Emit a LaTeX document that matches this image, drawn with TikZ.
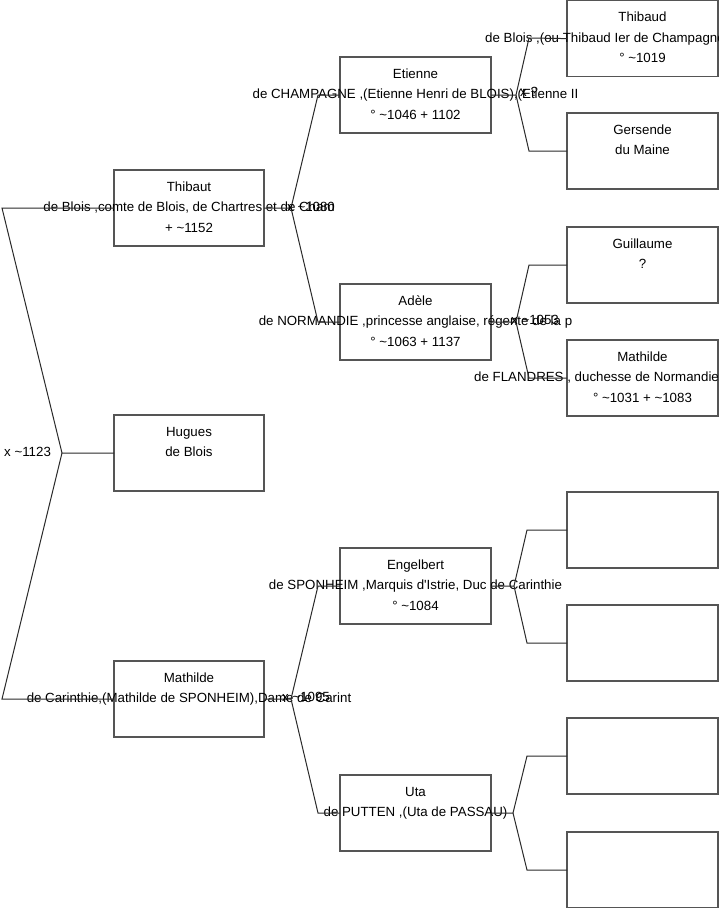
\documentclass[tikz,border=0pt]{standalone}
\usepackage{fontspec}
\setmainfont{Liberation Sans}
\definecolor{boxgray}{HTML}{555555}
\definecolor{linegray}{HTML}{2A2A2A}
\newcommand\tld{\textasciitilde}
\tikzset{
  box/.style={draw=boxgray, line width=1.2pt, rectangle, inner sep=0pt, outer sep=0pt, minimum height=76pt, anchor=north west},
  txt/.style={inner sep=0pt, anchor=base, font=\fontsize{13.3}{15}\selectfont, text=black},
  lbl/.style={inner sep=0pt, anchor=base west, font=\fontsize{13.3}{15}\selectfont, text=black},
  link/.style={draw=linegray, line width=1pt}
}
\newcommand\famcard[7]{%
  \node[box, minimum width=#4pt] (#1) at (#2,#3) {};
  \node[txt] (#1-a) at ({#2+#4/2},{#3+21}) {#5};
  \node[txt] (#1-b) at ({#2+#4/2},{#3+41.5}) {#6};
  \node[txt] (#1-c) at ({#2+#4/2},{#3+62}) {#7};
}
\begin{document}
\begin{tikzpicture}[x=1pt,y=-1pt]
\useasboundingbox[fill=white] (0,0) rectangle (719,908);
% column 1
\famcard{thibaut}{114}{170}{150}{Thibaut}{de Blois ,comte de Blois, de Chartres et de Cham}{+ \tld1152}
\famcard{hugues}{114}{415}{150}{Hugues}{de Blois}{}
\famcard{mathilde}{114}{661}{150}{Mathilde}{de Carinthie,(Mathilde de SPONHEIM),Dame de Carint}{}
% column 2
\famcard{etienne}{340}{57}{151}{Etienne}{de CHAMPAGNE ,(Etienne Henri de BLOIS),(Etienne II}{° \tld1046 + 1102}
\famcard{adele}{340}{284}{151}{Adèle}{de NORMANDIE ,princesse anglaise, régente de la p}{° \tld1063 + 1137}
\famcard{engelbert}{340}{548}{151}{Engelbert}{de SPONHEIM ,Marquis d\textquotesingle Istrie, Duc de Carinthie}{° \tld1084}
\famcard{uta}{340}{775}{151}{Uta}{de PUTTEN ,(Uta de PASSAU)}{}
% column 3
\famcard{thibaud}{567}{0.6}{151}{Thibaud}{}{° \tld1019}
\node[lbl] (thibaud-b2) at (485,42.1) {de Blois ,(ou Thibaud Ier de Champagne};
\famcard{gersende}{567}{113}{151}{Gersende}{du Maine}{}
\famcard{guillaume}{567}{227}{151}{Guillaume}{?}{}
\famcard{mathfl}{567}{340}{151}{Mathilde}{}{° \tld1031 + \tld1083}
\node[lbl] (mathfl-b2) at (474,381.5) {de FLANDRES , duchesse de Normandie};
\famcard{empty1}{567}{492}{151}{}{}{}
\famcard{empty2}{567}{605}{151}{}{}{}
\famcard{empty3}{567}{718}{151}{}{}{}
\famcard{empty4}{567}{832}{151}{}{}{}
% root fork
\coordinate (r0) at (62,453);
\coordinate (r1) at (2,208);
\coordinate (r2) at (2,699);
\draw[link] (hugues.west) -- (r0) -- (r1) -- (thibaut.west);
\draw[link] (r0) -- (r2) -- (mathilde.west);
\node[lbl] (lr) at (4,456.8) {x \tld1123};
% Thibaut fork
\coordinate (t0) at (291,208);
\coordinate (t1) at (318,95);
\coordinate (t2) at (318,322);
\draw[link] (thibaut.east) -- (t0) -- (t1) -- (etienne.west);
\draw[link] (t0) -- (t2) -- (adele.west);
\node[lbl] (lt) at (287,211.8) {x \tld1080};
% Mathilde fork
\coordinate (m0) at (291,699);
\coordinate (m1) at (318,586);
\coordinate (m2) at (318,813);
\draw[link] (mathilde.east) -- (m0) -- (m1) -- (engelbert.west);
\draw[link] (m0) -- (m2) -- (uta.west);
\node[lbl] (lm) at (282,701.8) {x \tld1095};
% Etienne fork
\coordinate (e0) at (516,95);
\coordinate (e1) at (529,38);
\coordinate (e2) at (529,151);
\draw[link] (etienne.east) -- (e0) -- (e1) -- (thibaud.west);
\draw[link] (e0) -- (e2) -- (gersende.west);
\node[lbl] (le) at (520,96.8) {x ?};
% Adele fork
\coordinate (a0) at (516,322);
\coordinate (a1) at (529,265);
\coordinate (a2) at (529,378);
\draw[link] (adele.east) -- (a0) -- (a1) -- (guillaume.west);
\draw[link] (a0) -- (a2) -- (mathfl.west);
\node[lbl] (la) at (511,324.8) {x \tld1053};
% Engelbert fork
\coordinate (g0) at (514,586);
\coordinate (g1) at (527,530);
\coordinate (g2) at (527,643);
\draw[link] (engelbert.east) -- (g0) -- (g1) -- (empty1.west);
\draw[link] (g0) -- (g2) -- (empty2.west);
% Uta fork
\coordinate (u0) at (513,813);
\coordinate (u1) at (527,756);
\coordinate (u2) at (527,870);
\draw[link] (uta.east) -- (u0) -- (u1) -- (empty3.west);
\draw[link] (u0) -- (u2) -- (empty4.west);
\end{tikzpicture}
\end{document}
